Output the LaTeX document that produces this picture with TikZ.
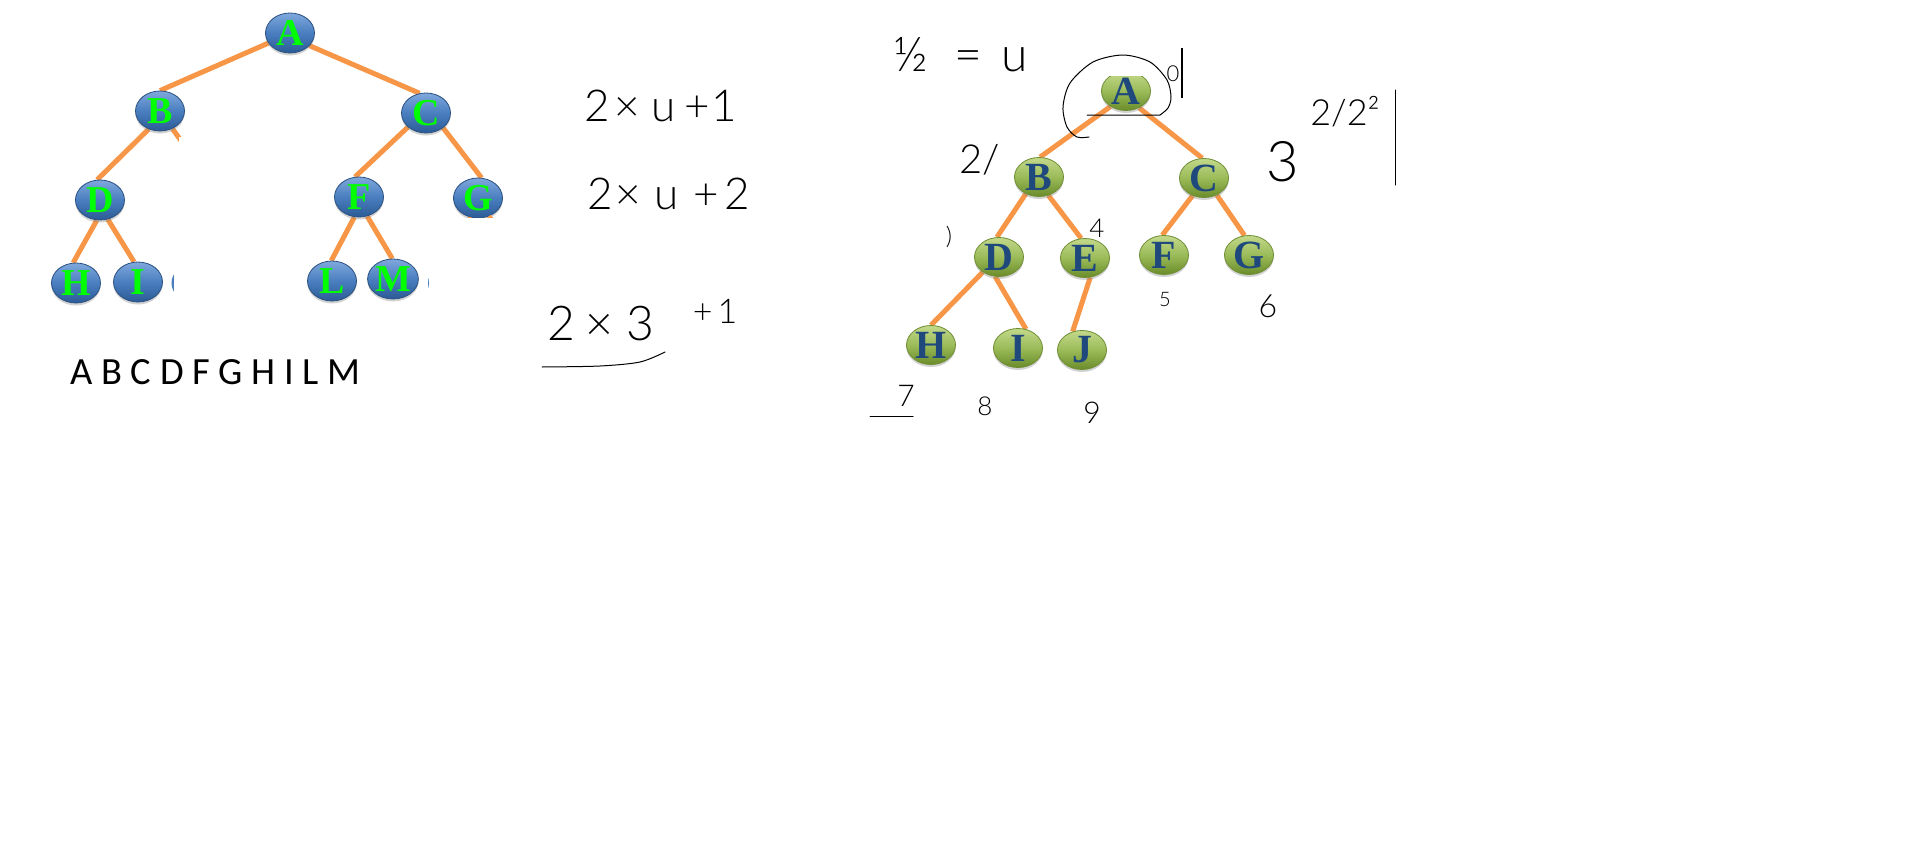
\documentclass[tikz,border=0pt]{standalone}
\usepackage{fontspec}
\setmainfont{Liberation Serif}
\newfontfamily\hwfont{Lato Light}
\newfontfamily\calfont{Carlito}
\usetikzlibrary{shapes.geometric,shadows}
\pgfdeclarelayer{bg}
\pgfsetlayers{bg,main}
\definecolor{edgeor}{HTML}{F79646}
\definecolor{bluetop}{HTML}{7FA8DD}
\definecolor{bluemid}{HTML}{4A7EBF}
\definecolor{bluebot}{HTML}{2B5B96}
\definecolor{blueedge}{HTML}{2A5182}
\definecolor{greentop}{HTML}{C3D98A}
\definecolor{greenmid}{HTML}{9BBB59}
\definecolor{greenbot}{HTML}{6B8C2A}
\definecolor{greenedge}{HTML}{6F8E33}
\definecolor{letterblue}{HTML}{1F497D}
\definecolor{lettergreen}{HTML}{00FF00}
\tikzset{
  bnode/.style={ellipse, minimum width=49pt, minimum height=40pt, inner sep=0pt,
    draw=blueedge, line width=0.8pt, top color=bluetop, bottom color=bluebot, middle color=bluemid,
    font=\bfseries\fontsize{38}{38}\selectfont, text=lettergreen,
    drop shadow={shadow xshift=0pt, shadow yshift=-2.5pt, opacity=0.35}},
  gnode/.style={ellipse, minimum width=49pt, minimum height=39pt, inner sep=0pt,
    draw=greenedge, line width=0.8pt, top color=greentop, bottom color=greenbot, middle color=greenmid,
    font=\bfseries\fontsize{40}{40}\selectfont, text=letterblue,
    drop shadow={shadow xshift=0pt, shadow yshift=-2.5pt, opacity=0.35}},
  tedge/.style={draw=edgeor, line width=5pt},
  hand/.style={font=\hwfont\fontsize{#1}{#1}\selectfont, inner sep=0pt, text=black},
  hline/.style={draw=black, line width=1pt, line cap=round, line join=round},
  blank/.style={fill=white, draw=none},
}
\begin{document}
\begin{tikzpicture}[x=1pt,y=-1pt]
\useasboundingbox (0,0) rectangle (1914,851);
\begin{pgfonlayer}{bg}
\fill[white] (0,0) rectangle (1914,851);
\end{pgfonlayer}

% ---------- left tree ----------
\node[bnode] (lA) at (290,33) {A};
\node[bnode] (lB) at (160,111) {B};
\node[bnode] (lC) at (426,113) {C};
\node[bnode] (lD) at (100,200) {D};
\node[bnode] (lF) at (359,197) {F};
\node[bnode] (lG) at (478,198) {G};
\node[bnode] (lH) at (76,283) {H};
\node[bnode] (lI) at (138,282) {I};
\node[bnode] (lL) at (332,281) {L};
\node[bnode] (lM) at (393,279) {M};
\coordinate (bstub) at (195,160);
\coordinate (gstubL) at (460,240);
\coordinate (gstubR) at (508,240);
\begin{pgfonlayer}{bg}
\draw[tedge] (lA.205) -- (lB.90);
\draw[tedge] (lA.327) -- (lC.108);
\draw[tedge] (lB.238) -- (lD.98);
\draw[tedge] (lB.305) -- (bstub);
\draw[tedge] (lC.218) -- (lF.101);
\draw[tedge] (lC.319) -- (lG.80);
\draw[tedge] (lD.261) -- (lH.98);
\draw[tedge] (lD.292) -- (lI.101);
\draw[tedge] (lF.257) -- (lL.92);
\draw[tedge] (lF.293) -- (lM.92);
\end{pgfonlayer}
\draw[tedge] (lG.250) -- (gstubL);
\draw[tedge] (lG.300) -- (gstubR);
% partly hidden pieces
\fill[bluemid] (195.5,283) ellipse (24 and 20);
\fill[bluemid] (452,283) ellipse (24 and 20);
\fill[blank] (179,137) rectangle (260,262);
\fill[blank] (174,262) rectangle (260,310);
\fill[blank] (428.5,240) rectangle (520,310);
\fill[blank] (450,218) rectangle (520,240);

\node[anchor=base west, inner sep=0pt, font=\calfont\fontsize{38.5}{38.5}\selectfont] (order) at (70,384) {A B C D F G H I L M};

% ---------- middle handwriting ----------
\node[hand=44] (f1) at (661,106) {2\hspace{4pt}×\hspace{12pt}u\hspace{8pt}+\hspace{2pt}1};
\node[hand=44] (f2) at (669,194) {2\hspace{2pt}×\hspace{14pt}u\hspace{14pt}+\hspace{6pt}2};
\node[hand=48] (f3) at (601,324) {2\hspace{10pt}×\hspace{14pt}3};
\node[hand=34] (f4) at (715,311) {+\hspace{5pt}1};
\draw[hline] plot[smooth] coordinates {(542,367) (600,366) (640,362) (665,352)};

% ---------- right tree ----------
\node[gnode] (rA) at (1126,91) {A};
\node[gnode] (rB) at (1039,177) {B};
\node[gnode] (rC) at (1204,178) {C};
\node[gnode] (rD) at (999,257) {D};
\node[gnode] (rE) at (1085,258) {E};
\node[gnode] (rF) at (1164,255) {F};
\node[gnode] (rG) at (1249,255) {G};
\node[gnode] (rH) at (931,345) {H};
\node[gnode] (rI) at (1018,348) {I};
\node[gnode] (rJ) at (1082,350) {J};
\begin{pgfonlayer}{bg}
\draw[tedge] (rA.225) -- (rB.87);
\draw[tedge] (rA.308) -- (rC.95);
\draw[tedge] (rB.232) -- (rD.96);
\draw[tedge] (rB.297) -- (rE.101);
\draw[tedge] (rC.237) -- (rF.95);
\draw[tedge] (rC.307) -- (rG.103);
\draw[tedge] (rD.223) -- (rH.90);
\draw[tedge] (rD.259) -- (rI.67);
\draw[tedge] (rE.285) -- (rJ.117);
\end{pgfonlayer}
\fill[blank] (1095,58) rectangle (1160,76);

% ---------- right handwriting ----------
\draw[hline] plot[smooth] coordinates {(1089,137) (1077,137) (1067,127) (1063,107) (1070,83) (1093,62) (1123,55) (1150,62) (1167,80) (1171,97) (1168,108) (1160,115)} -- (1087,115);
\node[hand=48] (u0) at (961,55) {½\hspace{26pt}=\hspace{20pt}u};
\node[hand=22] (n0) at (1173,74) {0};
\draw[black, line width=2.5pt] (1182,48) -- (1182,98);
\node[hand=40] (n1) at (980,160) {2/};
\node[hand=56] (n2) at (1283,162) {3};
\node[hand=36] (n22) at (1345,112) {2/2²};
\draw[hline] (1395,90) -- (1395,185);
\node[hand=24] (n3) at (949,237) {)};
\node[hand=26] (n4) at (1097,228) {4};
\node[hand=20] (n5) at (1165,300) {5};
\node[hand=32] (n6) at (1268,306) {6};
\node[hand=30] (n7) at (906,396) {7};
\draw[hline] (870,416) -- (913,416);
\node[hand=26] (n8) at (985,406) {8};
\node[hand=30] (n9) at (1092,413) {9};
\end{tikzpicture}
\end{document}
